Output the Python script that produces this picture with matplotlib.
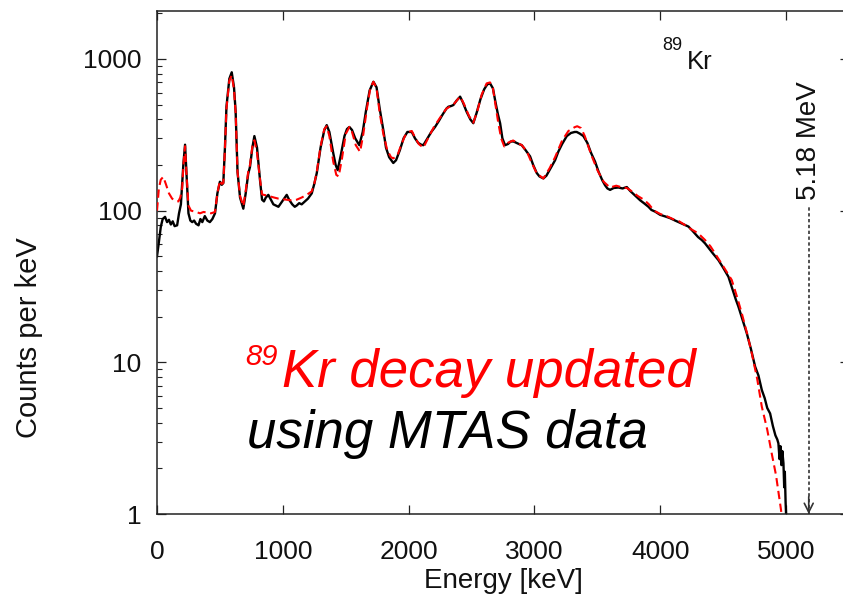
import matplotlib
matplotlib.use("Agg")
import matplotlib.pyplot as plt

plt.rcParams['font.family'] = ['Liberation Sans', 'DejaVu Sans']

# Measured total-absorption spectrum (energy in keV, counts per keV)
meas_energy = [0, 15, 30, 45, 64, 80, 95, 110, 125, 140, 160, 175, 190, 200, 210, 223, 235, 250,
               265, 280, 295, 310, 330, 345, 360, 380, 400, 420, 440, 461, 480, 500, 515, 527,
               540, 552, 575, 594, 612, 625, 640, 660, 686, 705, 725, 739, 758, 774, 795, 819,
               835, 850, 865, 885, 905, 925, 945, 965, 985, 1010, 1031, 1050, 1075, 1095,
               1110, 1130, 1150, 1176, 1200, 1230, 1250, 1270, 1300, 1330, 1349, 1370, 1401,
               1420, 1436, 1460, 1490, 1510, 1529, 1550, 1575, 1608, 1635, 1660, 1690, 1720,
               1745, 1770, 1799, 1820, 1845, 1878, 1900, 1930, 1960, 1990, 2025, 2050, 2075,
               2100, 2117, 2150, 2180, 2210, 2240, 2270, 2300, 2316, 2340, 2356, 2380, 2409,
               2430, 2460, 2490, 2514, 2540, 2570, 2600, 2625, 2647, 2670, 2690, 2710, 2727,
               2745, 2766, 2790, 2810, 2832, 2855, 2880, 2899, 2930, 2965, 2990, 3018, 3040,
               3071, 3095, 3120, 3140, 3164, 3190, 3220, 3257, 3290, 3320, 3336, 3360, 3389,
               3420, 3450, 3482, 3510, 3540, 3561, 3580, 3601, 3630, 3667, 3700, 3734, 3760,
               3790, 3813, 3840, 3870, 3906, 3930, 3959, 3999, 4040, 4078, 4118, 4160, 4190,
               4224, 4260, 4300, 4330, 4356, 4390, 4420, 4462, 4500, 4542, 4570, 4600, 4621,
               4650, 4688, 4720, 4754, 4780, 4807, 4830, 4850, 4873, 4895, 4915, 4930, 4939,
               4948, 4955, 4963, 4970, 4979, 4985, 4990, 4996, 5002]
meas_counts = [50, 62, 78, 88, 91, 84, 87, 81, 85, 79, 80, 96, 110, 150, 205, 272, 170, 96,
               86, 84, 86, 82, 80, 88, 84, 92, 86, 84, 88, 96, 130, 155, 148, 152,
               260, 484, 740, 817, 650, 450, 180, 122, 103, 130, 175, 194, 260, 310, 260, 158,
               118, 115, 122, 127, 118, 110, 108, 106, 112, 120, 127, 118, 110, 106,
               108, 112, 110, 115, 120, 130, 150, 177, 260, 340, 366, 330, 239,
               200, 185, 230, 310, 345, 356, 340, 300, 270, 330, 450, 620, 707,
               650, 470, 339, 260, 225, 206, 215, 250, 300, 330, 330, 300, 280,
               272, 270, 300, 330, 356, 390, 430, 470, 484, 490, 497, 530, 564,
               520, 450, 400, 377, 440, 540, 630, 680, 690, 640, 520, 430, 377,
               300, 270, 275, 285, 286, 280, 274, 270, 250, 228, 200, 177, 168,
               163, 170, 185, 198, 215, 245, 275, 310, 325, 330, 330, 322, 310,
               280, 240, 210, 180, 158, 147, 140, 137, 141, 142, 140, 143, 135,
               128, 123, 117, 112, 106, 101, 98.5, 93.8, 91.5, 89.2, 86, 83, 81,
               78.5, 73, 67, 64, 60.8, 56, 52, 47.2, 42, 36.6, 31, 26, 23.3,
               19.5, 15.5, 12.3, 9.36, 8.2, 6.57, 5.8, 5.0, 4.6, 3.8, 3.3, 3.1, 2.92,
               2.3, 2.8, 2.1, 2.6, 2.16, 1.5, 1.9, 1.2, 0.9]

# Fitted spectrum from the updated decay data
fit_energy = [0, 15, 30, 50, 70, 95, 120, 145, 170, 185, 200, 210, 223, 235, 250, 270, 310, 342,
              370, 400, 430, 461, 480, 500, 515, 527, 540, 552, 575, 594, 612, 625, 640,
              660, 686, 705, 725, 739, 758, 774, 795, 819, 835, 850, 870, 900, 930, 965, 1000,
              1031, 1060, 1090, 1110, 1150, 1190, 1230, 1250, 1270, 1300, 1330, 1349, 1370,
              1401, 1425, 1444, 1470, 1500, 1529, 1550, 1580, 1614, 1640, 1670, 1695, 1720,
              1745, 1770, 1799, 1830, 1860, 1878, 1910, 1940, 1970, 2000, 2025, 2050, 2080,
              2117, 2150, 2200, 2250, 2300, 2356, 2409, 2440, 2480, 2514, 2545, 2580, 2620,
              2647, 2670, 2690, 2710, 2735, 2760, 2790, 2830, 2870, 2900, 2940, 2980, 3020,
              3071, 3120, 3164, 3220, 3270, 3320, 3340, 3370, 3400, 3450, 3500, 3550, 3600,
              3650, 3700, 3734, 3780, 3820, 3870, 3910, 3950, 4000, 4050, 4100, 4150, 4200,
              4250, 4300, 4356, 4400, 4450, 4500, 4568, 4610, 4648, 4690, 4727, 4770, 4807,
              4850, 4886, 4920, 4960, 4975]
fit_counts = [100, 140, 160, 167, 150, 130, 120, 116, 115, 122, 140, 200, 266, 170, 108, 100, 98, 96,
              98, 97, 96, 98, 130, 158, 150, 152, 255, 470, 720, 780, 630, 440, 180,
              125, 107, 135, 180, 200, 265, 291, 240, 160, 128, 127, 126, 124, 122, 120, 119,
              118, 117, 117, 118, 122, 127, 134, 150, 180, 265, 345, 360, 310,
              210, 172, 168, 220, 320, 356, 330, 270, 244, 320, 480, 640, 707,
              640, 440, 320, 250, 225, 221, 230, 270, 310, 330, 335, 305, 275,
              260, 295, 355, 410, 470, 500, 565, 505, 420, 380, 450, 580, 690,
              700, 640, 500, 390, 300, 265, 280, 290, 278, 270, 245, 205, 175,
              163, 190, 225, 290, 335, 355, 360, 350, 310, 235, 185, 155, 142,
              146, 142, 141, 133, 125, 118, 110, 100, 95, 92, 88, 85, 80,
              75, 71, 64, 58, 50, 43, 34.9, 27, 21, 15.5, 11.5, 7.8, 5.1,
              3.6, 2.5, 1.8, 1.06, 0.8]

x_ticks = [0, 1000, 2000, 3000, 4000, 5000]
y_ticks = [1, 10, 100, 1000]
q_value_kev = 5180

W, H = 843, 601
fig = plt.figure(figsize=(W / 100, H / 100), dpi=100)
ax = fig.add_axes([157 / W, 1 - 514 / H, (849 - 157) / W, (514 - 11) / H])

ax.plot(meas_energy, meas_counts, color='black', lw=1.7, zorder=2)
ax.plot(fit_energy, fit_counts, color='red', lw=1.5, ls=(0, (4, 2.2)), zorder=3)

ax.set_yscale('log')
ax.set_xlim(0, 5500)
ax.set_ylim(1, 2070)
ax.set_xticks(x_ticks)
ax.set_xticklabels([str(t) for t in x_ticks])
ax.set_yticks(y_ticks)
ax.set_yticklabels([str(t) for t in y_ticks])
ax.xaxis.set_minor_locator(matplotlib.ticker.NullLocator())

for s in ax.spines.values():
    s.set_linewidth(1.1)
    s.set_color('#222222')
ax.tick_params(which='both', direction='in', top=True, right=True, colors='#222222')
ax.tick_params(which='major', length=6.5, width=0.9, labelsize=19)
ax.tick_params(which='minor', length=3.5, width=0.8)
ax.tick_params(axis='x', pad=19)
ax.tick_params(axis='y', pad=11)
for lab in ax.get_xticklabels() + ax.get_yticklabels():
    lab.set_color('#111111')

ax.set_xlabel('Energy [keV]', fontsize=20, color='#111111')
ax.xaxis.set_label_coords(0.501, -0.108)
ax.set_ylabel('Counts per keV', fontsize=21, color='#111111')
ax.yaxis.set_label_coords(-0.165, 0.35)

# Q-value marker
ax.vlines(q_value_kev, 1.0, 105, colors='#333333', lw=1.2, linestyles=(0, (2, 1.5)), zorder=1)
ax.annotate('', xy=(q_value_kev, 1.0), xytext=(q_value_kev, 1.3),
            arrowprops=dict(arrowstyle='->', color='#333333', lw=1.2, mutation_scale=16,
                            shrinkA=0, shrinkB=0))
ax.text(q_value_kev, 117, '5.18 MeV', rotation=90, ha='center', va='bottom',
        fontsize=20, color='#111111')

# Isotope tag
fig.text(662 / W, 1 - 50 / H, '89', fontsize=13, color='#111111', va='baseline', ha='left')
fig.text(687 / W, 1 - 69 / H, 'Kr', fontsize=18.5, color='#111111', va='baseline', ha='left')

# Annotation text
fig.text(245 / W, 1 - 365 / H, '89', fontsize=21, color='red', style='italic',
         va='baseline', ha='left')
fig.text(282 / W, 1 - 387 / H, 'Kr decay updated', fontsize=38, color='red', style='italic',
         va='baseline', ha='left')
fig.text(247 / W, 1 - 448 / H, 'using MTAS data', fontsize=38, color='black', style='italic',
         va='baseline', ha='left')

fig.savefig('out.png', dpi=100)
